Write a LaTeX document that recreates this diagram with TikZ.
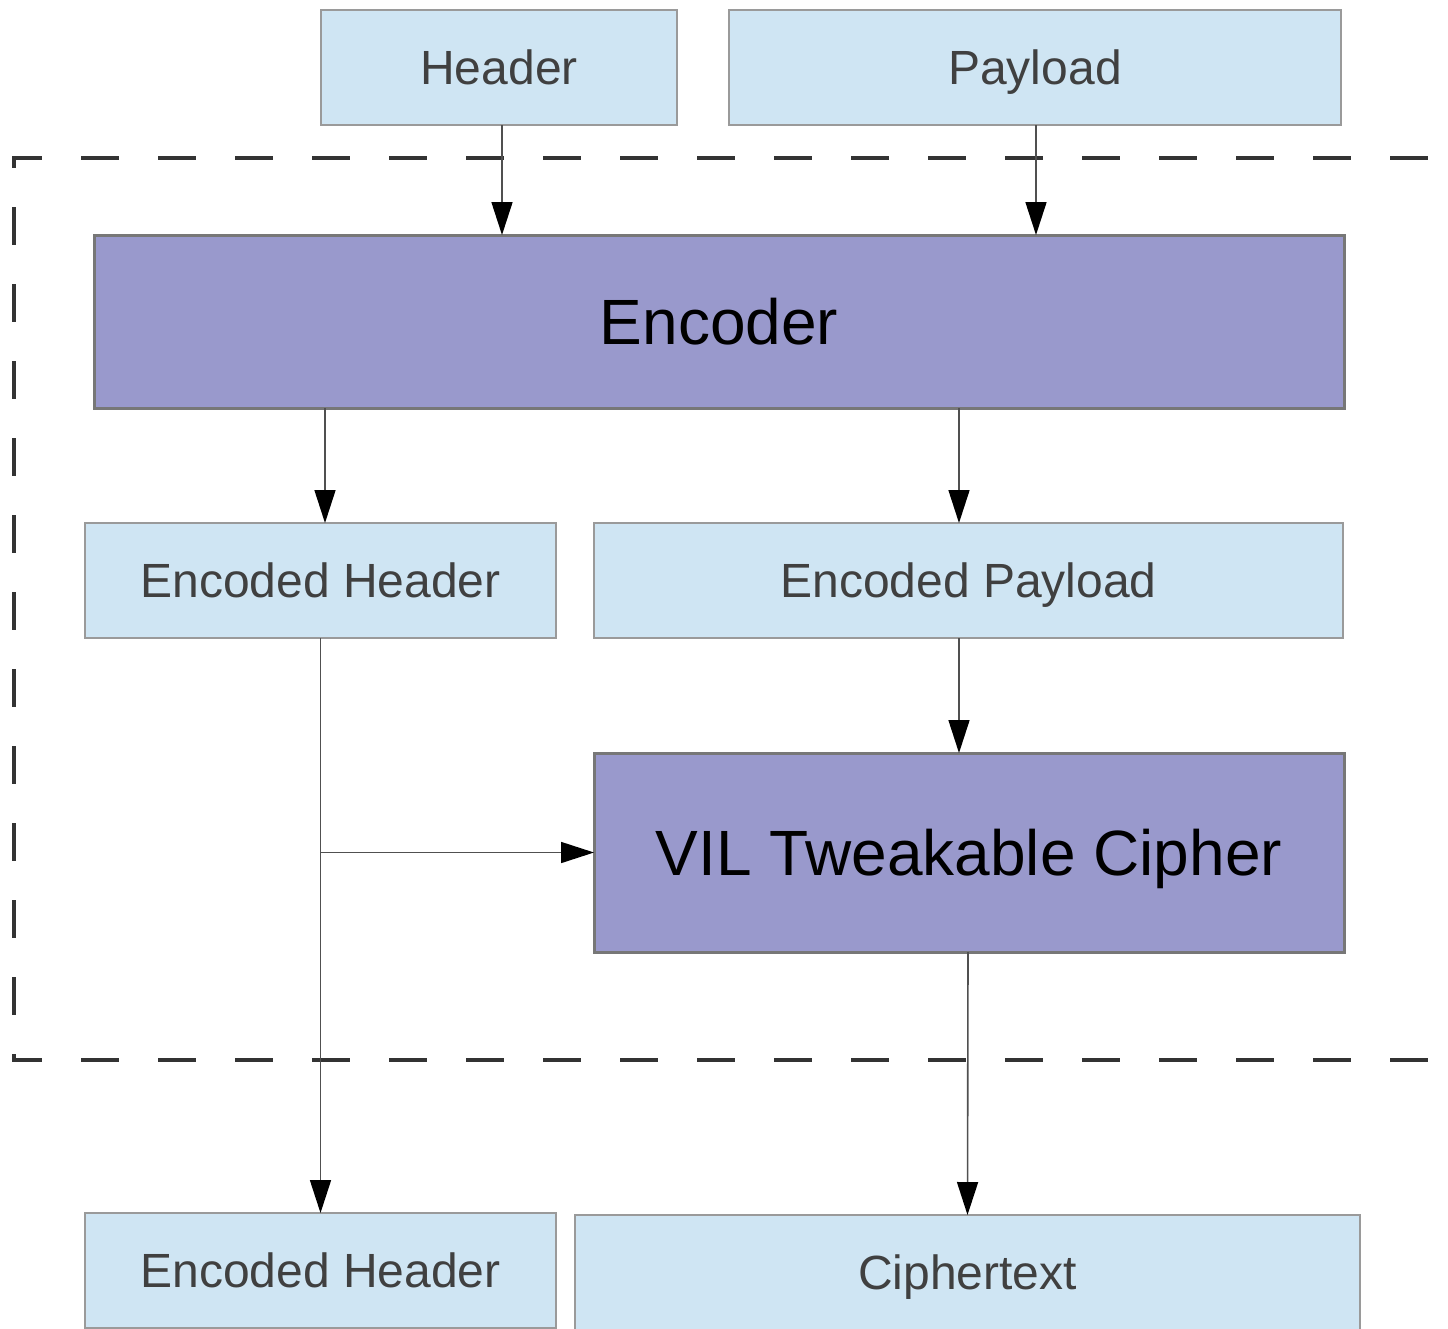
\documentclass[tikz,border=0pt]{standalone}
\usepackage{fontspec}
\setmainfont{Liberation Sans}
\usetikzlibrary{arrows.meta}
\definecolor{lightfill}{HTML}{CFE5F3}
\definecolor{lightedge}{HTML}{9A9A9A}
\definecolor{stagefill}{HTML}{9999CC}
\definecolor{stageedge}{HTML}{777777}
\definecolor{labeltext}{HTML}{404040}
\definecolor{frameline}{HTML}{333333}
\definecolor{wire}{HTML}{505050}

\tikzset{
  databox/.style={rectangle, draw=lightedge, line width=1.5pt, fill=lightfill,
    inner sep=0pt, outer sep=0pt, text=labeltext,
    text height=34.4pt, text depth=0pt,
    font=\fontsize{48}{57}\selectfont},
  stagebox/.style={rectangle, draw=stageedge, line width=3pt, fill=stagefill,
    inner sep=0pt, outer sep=0pt, text=black,
    text height=45.8pt, text depth=0pt,
    font=\fontsize{64}{76}\selectfont},
  flow/.style={draw=wire, line width=1.6pt,
    -{Triangle[length=33pt, width=21pt, color=black]}},
  framedash/.style={draw=frameline, line width=4pt, dash pattern=on 38pt off 39pt}
}

\begin{document}
\begin{tikzpicture}[x=1pt, y=-1pt]
\useasboundingbox (0,0) rectangle (1448,1328);
\clip (0,0) rectangle (1448,1328);

% dashed system boundary (right edge lies outside the picture)
\draw[framedash, dash phase=8pt]  (12,158) -- (1470,158);
\draw[framedash, dash phase=26pt] (14,156) -- (14,1062);
\draw[framedash, dash phase=8pt]  (12,1060) -- (1470,1060);

% inputs
\node[databox, minimum width=356pt, minimum height=115pt] (hdr) at (499,67.5) {Header};
\node[databox, minimum width=612pt, minimum height=115pt] (pay) at (1035,67.5) {Payload};

% encoder
\node[stagebox, minimum width=1250pt, minimum height=173pt] (enc) at (719,321.5) {Encoder};

% encoded parts
\node[databox, minimum width=471pt, minimum height=115pt] (ehdr) at (320.5,580.5) {Encoded Header};
\node[databox, minimum width=749pt, minimum height=115pt] (epay) at (968.5,580.5) {Encoded Payload};

% cipher
\node[stagebox, minimum width=750pt, minimum height=199pt] (vil) at (969,852.5) {VIL Tweakable Cipher};

% outputs
\node[databox, minimum width=471pt, minimum height=115pt] (ohdr) at (320.5,1270.5) {Encoded Header};
\node[databox, minimum width=785pt, minimum height=115pt] (ctxt) at (967.5,1272.5) {Ciphertext};

% connectors
\draw[flow] ([xshift=3pt]hdr.south) -- ([xshift=3pt]hdr.south |- enc.north);
\draw[flow] ([xshift=1pt]pay.south) -- ([xshift=1pt]pay.south |- enc.north);
\draw[flow] ([xshift=4.5pt]ehdr.north |- enc.south) -- ([xshift=4.5pt]ehdr.north);
\draw[flow] ([xshift=-9.5pt]epay.north |- enc.south) -- ([xshift=-9.5pt]epay.north);
\draw[flow] ([xshift=-9.5pt]epay.south) -- ([xshift=-9.5pt]epay.south |- vil.north);
\draw[flow] (ehdr.south) -- (ohdr.north);
\coordinate (tap) at (ehdr.south |- vil.west);
\draw[flow] (tap) -- (vil.west);
\draw[flow] ([xshift=-1pt]vil.south) -- (ctxt.north);
\end{tikzpicture}
\end{document}
